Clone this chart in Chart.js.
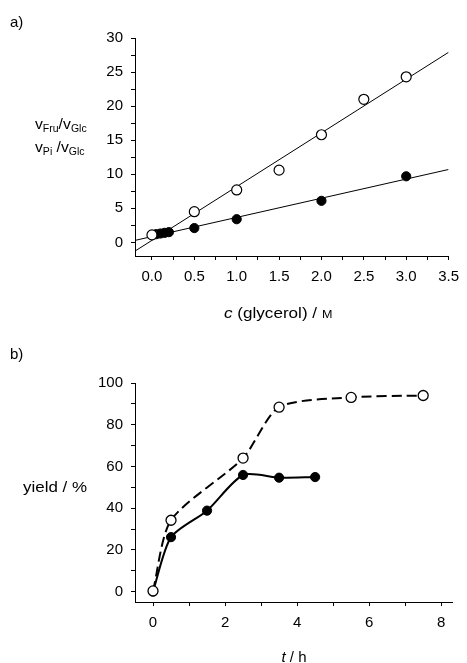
<!DOCTYPE html>
<html>
<head>
<meta charset="utf-8">
<script src="https://cdn.jsdelivr.net/npm/chart.js@4.4.0/dist/chart.umd.min.js"></script>
<style>
body { margin: 0; background: #fff; font-family: "Liberation Sans", Arial, sans-serif; color: #000; }
#page { position: relative; width: 467px; height: 663px; overflow: hidden; }
canvas { position: absolute; left: 0; }
.lbl { position: absolute; font-size: 15px; line-height: 1; white-space: nowrap; transform-origin: 0 0; }
.lbl sub { font-size: 10px; vertical-align: -3px; line-height: 0; }
</style>
</head>
<body>
<div id="page">
  <canvas id="chartA" width="467" height="325" style="top:0"></canvas>
  <canvas id="chartB" width="467" height="338" style="top:325px"></canvas>

  <div class="lbl" style="left:10px;top:14px">a)</div>
  <div class="lbl" style="left:35px;top:116px;transform:scaleX(1.05)">v<sub>Fru</sub>/v<sub>Glc</sub></div>
  <div class="lbl" style="left:35px;top:139px;transform:scaleX(1.05)">v<sub>Pi</sub>&nbsp;/v<sub>Glc</sub></div>
  <div class="lbl" style="left:224px;top:305px;transform:scaleX(1.14)"><i>c</i> (glycerol) / <span style="font-size:11px">M</span></div>

  <div class="lbl" style="left:10px;top:346px">b)</div>
  <div class="lbl" style="left:23px;top:479px;transform:scaleX(1.13)">yield / %</div>
  <div class="lbl" style="left:294px;top:649px;transform:translateX(-50%)"><i>t</i> / h</div>
</div>

<script>
// a) rate ratios vs glycerol concentration
var fruX = [0, 0.5, 1.0, 1.5, 2.0, 2.5, 3.0];
var fruY = [1.1, 4.5, 7.7, 10.6, 15.8, 21.0, 24.3];
var piX = [0.05, 0.1, 0.15, 0.2, 0.5, 1.0, 2.0, 3.0];
var piY = [1.2, 1.3, 1.4, 1.5, 2.1, 3.4, 6.1, 9.7];
var fruFitX = [-0.2, 3.5];
var fruFitY = [-1.28, 27.9];
var piFitX = [-0.2, 3.5];
var piFitY = [0.29, 10.7];
var aXTicks = [0, 0.25, 0.5, 0.75, 1.0, 1.25, 1.5, 1.75, 2.0, 2.25, 2.5, 2.75, 3.0, 3.25, 3.5];
var aXLabels = [0, 0.5, 1.0, 1.5, 2.0, 2.5, 3.0, 3.5];
var aYTicks = [0, 2.5, 5, 7.5, 10, 12.5, 15, 17.5, 20, 22.5, 25, 27.5, 30];
var aYLabels = [0, 5, 10, 15, 20, 25, 30];

// b) yield vs time
var timeOpen = [0, 0.5, 2.5, 3.5, 5.5, 7.5];
var yieldOpen = [0.3, 34.2, 64, 88.4, 93.1, 94.0];
var timeFilled = [0, 0.5, 1.5, 2.5, 3.5, 4.5];
var yieldFilled = [0, 26.1, 38.8, 55.9, 54.6, 54.9];
var bXTicks = [0, 1, 2, 3, 4, 5, 6, 7, 8];
var bXLabels = [0, 2, 4, 6, 8];
var bYTicks = [0, 10, 20, 30, 40, 50, 60, 70, 80, 90, 100];
var bYLabels = [0, 20, 40, 60, 80, 100];

function pts(xs, ys) {
	var out = [];
	for (var i in xs) out.push({x: xs[i], y: ys[i]});
	return out;
}

var tickFont = {family: '"Liberation Sans", Arial, sans-serif', size: 15};

function axis(min, max, tickVals, labelVals, fmt, size, isX) {
	return {
		type: 'linear',
		min: min,
		max: max,
		afterBuildTicks: function(s) {
			s.ticks = tickVals.map(function(v) { return {value: v}; });
		},
		afterFit: function(s) {
			if (isX) s.height = size; else s.width = size;
		},
		grid: {display: true, drawOnChartArea: false, drawTicks: true, tickLength: 4, tickColor: '#000', tickWidth: 1},
		border: {display: true, color: '#000', width: 1},
		ticks: {
			autoSkip: false,
			maxRotation: 0,
			padding: 8,
			color: '#000',
			font: tickFont,
			callback: function(v) { return labelVals.indexOf(v) >= 0 ? fmt(v) : ''; }
		}
	};
}

var common = {
	responsive: false,
	animation: false,
	events: [],
	plugins: {legend: {display: false}, tooltip: {enabled: false}}
};

new Chart(document.getElementById('chartA'), {
	type: 'scatter',
	data: {
		datasets: [
			{data: pts(fruX, fruY), order: 0, pointRadius: 5, pointBorderWidth: 1.2,
				pointBackgroundColor: '#fff', pointBorderColor: '#000'},
			{data: pts(piX, piY), order: 1, pointRadius: 4.6, pointBorderWidth: 1,
				pointBackgroundColor: '#000', pointBorderColor: '#000'},
			{data: pts(fruFitX, fruFitY), order: 2, showLine: true, pointRadius: 0,
				borderColor: '#000', borderWidth: 1},
			{data: pts(piFitX, piFitY), order: 3, showLine: true, pointRadius: 0,
				borderColor: '#000', borderWidth: 1}
		]
	},
	options: Object.assign({}, common, {
		layout: {padding: {left: 0, top: 38, right: 15, bottom: 0}},
		scales: {
			x: axis(-0.2, 3.5, aXTicks, aXLabels, function(v) { return v.toFixed(1); }, 69, true),
			y: axis(-2, 30, aYTicks, aYLabels, function(v) { return String(v); }, 135, false)
		}
	})
});

new Chart(document.getElementById('chartB'), {
	type: 'line',
	data: {
		datasets: [
			{data: pts(timeOpen, yieldOpen), order: 0, borderColor: '#000', borderWidth: 2,
				borderDash: [10, 5], tension: 0.25,
				pointRadius: 5, pointBorderWidth: 1.3,
				pointBackgroundColor: '#fff', pointBorderColor: '#000'},
			{data: pts(timeFilled, yieldFilled), order: 1, borderColor: '#000', borderWidth: 2,
				tension: 0.25, pointRadius: 4.6, pointBorderWidth: 1,
				pointBackgroundColor: '#000', pointBorderColor: '#000'}
		]
	},
	options: Object.assign({}, common, {
		layout: {padding: {left: 0, top: 58, right: 15, bottom: 0}},
		scales: {
			x: axis(-0.5, 8.3, bXTicks, bXLabels, function(v) { return String(v); }, 61, true),
			y: axis(-5, 100, bYTicks, bYLabels, function(v) { return String(v); }, 135, false)
		}
	})
});
</script>
</body>
</html>
